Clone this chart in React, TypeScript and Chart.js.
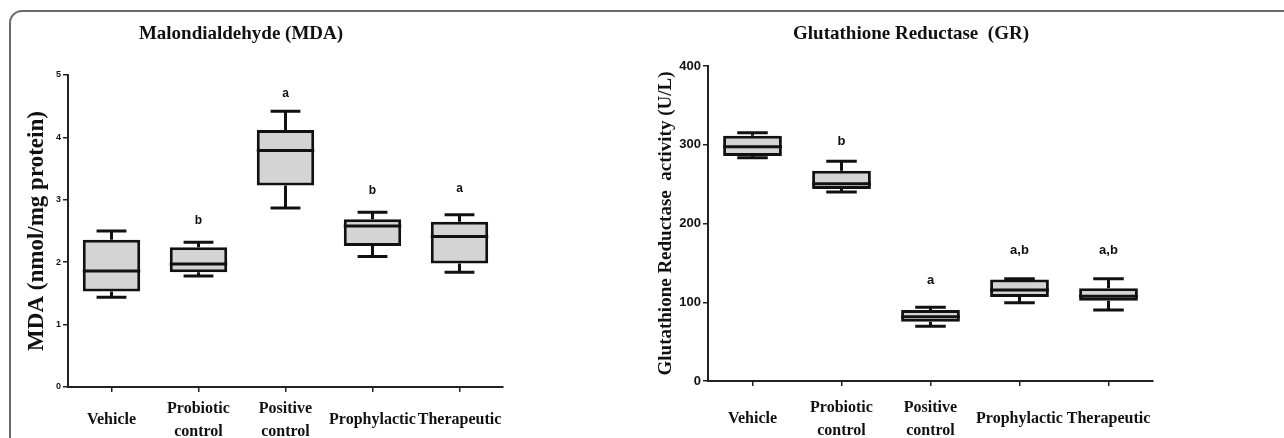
import React, { useEffect, useRef } from "react";
import { Chart, registerables } from "chart.js";

Chart.register(...registerables);

// ---------- data ----------
const categories: (string | string[])[] = [
  "Vehicle",
  ["Probiotic", "control"],
  ["Positive", "control"],
  "Prophylactic",
  "Therapeutic",
];

const mdaTitle = "Malondialdehyde (MDA)";
const mdaAxisTitle = "MDA (nmol/mg protein)";
const mdaMin = [1.44, 1.78, 2.87, 2.09, 1.84];
const mdaQ1 = [1.53, 1.84, 3.23, 2.26, 1.98];
const mdaMedian = [1.86, 1.97, 3.79, 2.58, 2.41];
const mdaQ3 = [2.36, 2.24, 4.12, 2.69, 2.65];
const mdaMax = [2.5, 2.32, 4.42, 2.8, 2.76];
const mdaLetters = ["", "b", "a", "b", "a"];
const mdaLetterY = [0, 2.66, 4.7, 3.15, 3.18];
const mdaTickMax = 5;
const mdaTickStep = 1;

const grTitle = "Glutathione Reductase  (GR)";
const grAxisTitle = "Glutathione Reductase  activity (U/L)";
const grMin = [283.6, 240, 69.4, 99.5, 90.2];
const grQ1 = [285.7, 243.8, 75.3, 106.7, 102];
const grMedian = [297.5, 250.6, 81.7, 115.6, 107.5];
const grQ3 = [311.5, 267, 90.2, 129, 117.7];
const grMax = [315.3, 279, 93.5, 130, 130];
const grLetters = ["", "b", "a", "a,b", "a,b"];
const grLetterY = [0, 304, 128, 166, 166];
const grTickMax = 400;
const grTickStep = 100;

// ---------- styling ----------
const INK = "#111111";
const AXIS = "#222222";
const BOX_FILL = "#d4d4d4";
const SERIF = "'Liberation Serif', 'Times New Roman', serif";
const SANS = "'Liberation Sans', Arial, sans-serif";

type Panel = {
  title: string;
  axisTitle: string;
  min: number[];
  q1: number[];
  median: number[];
  q3: number[];
  max: number[];
  letters: string[];
  letterY: number[];
  tickMax: number;
  tickStep: number;
  width: number;
  padTop: number;
  padRight: number;
  xAxisHeight: number;
  yTickFont: number;
  yTitleFont: number;
  yTitlePad: number;
  letterFont: number;
  titleX: number;
  xLabelPad: number;
};

function makeBoxPlugin(p: Panel) {
  return {
    id: "boxWhisker",
    afterDatasetsDraw(chart: any) {
      const { ctx } = chart;
      const x = chart.scales.x;
      const y = chart.scales.y;
      const meta = chart.getDatasetMeta(0);
      ctx.save();
      ctx.strokeStyle = INK;
      ctx.lineCap = "butt";
      meta.data.forEach((bar: any, i: number) => {
        const cx = x.getPixelForValue(i);
        const w = bar.width;
        const cap = w * 0.52;
        const yMin = y.getPixelForValue(p.min[i]);
        const yQ1 = y.getPixelForValue(p.q1[i]);
        const yMed = y.getPixelForValue(p.median[i]);
        const yQ3 = y.getPixelForValue(p.q3[i]);
        const yMax = y.getPixelForValue(p.max[i]);
        ctx.lineWidth = 3;
        // whiskers
        ctx.beginPath();
        ctx.moveTo(cx, yQ3);
        ctx.lineTo(cx, yMax);
        ctx.moveTo(cx - cap / 2, yMax);
        ctx.lineTo(cx + cap / 2, yMax);
        ctx.moveTo(cx, yQ1);
        ctx.lineTo(cx, yMin);
        ctx.moveTo(cx - cap / 2, yMin);
        ctx.lineTo(cx + cap / 2, yMin);
        ctx.stroke();
        // median
        ctx.beginPath();
        ctx.moveTo(cx - w / 2, yMed);
        ctx.lineTo(cx + w / 2, yMed);
        ctx.stroke();
        // significance letters
        if (p.letters[i]) {
          ctx.fillStyle = INK;
          ctx.font = `bold ${p.letterFont}px ${SANS}`;
          ctx.textAlign = "center";
          ctx.textBaseline = "middle";
          ctx.fillText(p.letters[i], cx, y.getPixelForValue(p.letterY[i]));
        }
      });
      // panel title
      ctx.fillStyle = INK;
      ctx.font = `bold 19px ${SERIF}`;
      ctx.textAlign = "center";
      ctx.textBaseline = "middle";
      ctx.fillText(p.title, p.titleX, 34);
      ctx.restore();
    },
  };
}

function BoxPanel({ p }: { p: Panel }) {
  const ref = useRef<HTMLCanvasElement | null>(null);
  useEffect(() => {
    if (!ref.current) return;
    const chart = new Chart(ref.current, {
      type: "bar",
      data: {
        labels: categories as any,
        datasets: [
          {
            data: p.q1.map((v, i) => [v, p.q3[i]]) as any,
            backgroundColor: BOX_FILL,
            borderColor: INK,
            borderWidth: 3,
            borderSkipped: false,
            categoryPercentage: 1,
            barPercentage: 0.66,
          },
        ],
      },
      options: {
        responsive: false,
        animation: false,
        devicePixelRatio: 1,
        layout: { padding: { top: p.padTop, right: p.padRight, left: 0, bottom: 0 } },
        plugins: {
          legend: { display: false },
          tooltip: { enabled: false },
          title: { display: false },
        },
        scales: {
          x: {
            type: "category",
            offset: true,
            grid: {
              offset: false,
              drawOnChartArea: false,
              drawTicks: true,
              tickLength: 5,
              color: AXIS,
              lineWidth: 1.5,
            },
            border: { display: true, color: AXIS, width: 2 },
            ticks: {
              color: INK,
              font: { family: SERIF, weight: "bold", size: 16, lineHeight: 1.4 },
              maxRotation: 0,
              autoSkip: false,
              padding: p.xLabelPad,
              crossAlign: "center",
            },
            afterFit: (s: any) => {
              s.height = p.xAxisHeight;
            },
          },
          y: {
            min: 0,
            max: p.tickMax,
            grid: {
              drawOnChartArea: false,
              drawTicks: true,
              tickLength: 5,
              color: AXIS,
              lineWidth: 1.5,
            },
            border: { display: true, color: AXIS, width: 2 },
            ticks: {
              stepSize: p.tickStep,
              color: INK,
              padding: 2,
              font: { family: SANS, weight: "bold", size: p.yTickFont },
            },
            title: {
              display: true,
              text: p.axisTitle,
              color: INK,
              font: { family: SERIF, weight: "bold", size: p.yTitleFont },
              padding: { top: p.yTitlePad, bottom: 0 },
            },
            afterFit: (s: any) => {
              s.width = 68;
            },
          },
        },
      } as any,
      plugins: [makeBoxPlugin(p)],
    });
    return () => chart.destroy();
  }, [p]);
  return <canvas ref={ref} width={p.width} height={438} style={{ display: "block" }} />;
}

const leftPanel: Panel = {
  title: mdaTitle,
  axisTitle: mdaAxisTitle,
  min: mdaMin,
  q1: mdaQ1,
  median: mdaMedian,
  q3: mdaQ3,
  max: mdaMax,
  letters: mdaLetters,
  letterY: mdaLetterY,
  tickMax: mdaTickMax,
  tickStep: mdaTickStep,
  width: 640,
  padTop: 75,
  padRight: 137,
  xAxisHeight: 51,
  yTickFont: 9,
  yTitleFont: 23,
  yTitlePad: 23,
  letterFont: 12,
  titleX: 241,
  xLabelPad: 17,
};

const rightPanel: Panel = {
  title: grTitle,
  axisTitle: grAxisTitle,
  min: grMin,
  q1: grQ1,
  median: grMedian,
  q3: grQ3,
  max: grMax,
  letters: grLetters,
  letterY: grLetterY,
  tickMax: grTickMax,
  tickStep: grTickStep,
  width: 644,
  padTop: 66,
  padRight: 131,
  xAxisHeight: 57,
  yTickFont: 13,
  yTitleFont: 19,
  yTitlePad: 15,
  letterFont: 13,
  titleX: 271,
  xLabelPad: 22,
};

export default function App() {
  return (
    <div
      style={{
        position: "fixed",
        left: 0,
        top: 0,
        width: 1284,
        height: 438,
        overflow: "hidden",
        background: "#ffffff",
      }}
    >
      <div
        style={{
          position: "absolute",
          left: 9,
          top: 10,
          width: 1400,
          height: 600,
          border: "2px solid #6b6b6b",
          borderRadius: 13,
          boxSizing: "border-box",
        }}
      />
      <div style={{ position: "absolute", left: 0, top: 0 }}>
        <BoxPanel p={leftPanel} />
      </div>
      <div style={{ position: "absolute", left: 640, top: 0 }}>
        <BoxPanel p={rightPanel} />
      </div>
    </div>
  );
}
